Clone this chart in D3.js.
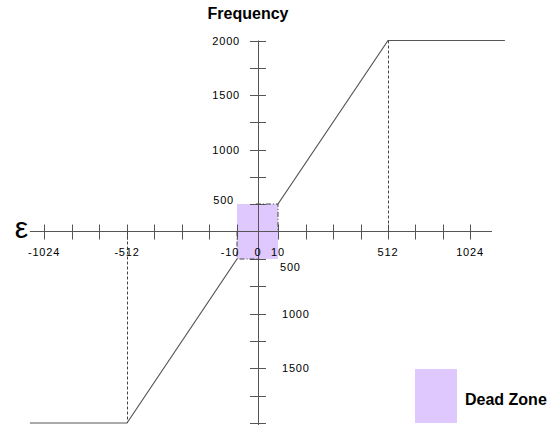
<!DOCTYPE html>
<meta charset="utf-8">
<style>
body { margin: 0; background: #fff; }
text { font-family: "Liberation Sans", Arial, sans-serif; fill: #000; }
.num { font-size: 11px; letter-spacing: 0.8px; }
.axis line { stroke: #555; stroke-width: 1px; }
.curve { fill: none; stroke: #555; stroke-width: 1.2px; }
.guide { stroke: #444; stroke-width: 1px; stroke-dasharray: 3,2; }
.dz { stroke: #444; stroke-width: 1px; stroke-dasharray: 5,2,1,2; fill: none; }
</style>
<svg></svg>
<script src="https://cdn.jsdelivr.net/npm/d3@7"></script>
<script>

// schematic axes: breakpoints in data units
var xBreaks = [-1024, -512, -10, 0, 10, 512, 1024];
var yBreaks = [-2000, -500, 0, 500, 2000];

var xTickValues = [-1024, -853, -683, -512, -387, -261, -136, -10, 10, 136, 261, 387, 512, 683, 853, 1024];
var xLabels = [-1024, -512, -10, 0, 10, 512, 1024];
var yTickValues = [2000, 1750, 1500, 1250, 1000, 750, 500, -500, -750, -1000, -1250, -1500, -1750, -2000];
var yLabelsTop = [2000, 1500, 1000, 500];
var yLabelsBottom = [-500, -1000, -1500];

// the response curve (two branches either side of the dead zone)
var leftBranch = [[-1111, -2000], [-512, -2000], [-10, -500]];
var rightBranch = [[10, 500], [512, 2000], [1242, 2000]];
var deadZone = { x0: -10, x1: 10, y0: -500, y1: 500 };

var width = 558,
    height = 425;

var svg = d3.select("svg")
    .attr("width", width)
    .attr("height", height);

var x = d3.scaleLinear()
    .domain(xBreaks)
    .range([44, 127, 237, 258, 278, 388, 470]);

var y = d3.scaleLinear()
    .domain(yBreaks)
    .range([423, 259, 231.5, 204, 40.5]);

// dead zone box
svg.append("rect")
    .attr("x", x(deadZone.x0))
    .attr("y", y(deadZone.y1))
    .attr("width", x(deadZone.x1) - x(deadZone.x0))
    .attr("height", y(deadZone.y0) - y(deadZone.y1))
    .attr("fill", "#dfc8fe");

var axis = svg.append("g").attr("class", "axis");

// x axis
axis.append("line")
    .attr("x1", x(-1111)).attr("x2", x(1161))
    .attr("y1", y(0)).attr("y2", y(0));

axis.selectAll(".xt")
    .data(xTickValues)
    .enter().append("line")
    .attr("x1", function(d) { return Math.round(x(d)) + 0.5; })
    .attr("x2", function(d) { return Math.round(x(d)) + 0.5; })
    .attr("y1", y(0) - 7)
    .attr("y2", y(0) + 8);

// y axis
axis.append("line")
    .attr("x1", x(0) + 0.5).attr("x2", x(0) + 0.5)
    .attr("y1", y(2000)).attr("y2", y(-2000) + 2);

axis.selectAll(".yt")
    .data(yTickValues)
    .enter().append("line")
    .attr("x1", x(0) - 8)
    .attr("x2", x(0) + 8)
    .attr("y1", function(d) { return Math.round(y(d)) + 0.5; })
    .attr("y2", function(d) { return Math.round(y(d)) + 0.5; });

// projection guides
svg.append("line").attr("class", "guide")
    .attr("x1", x(512) + 0.5).attr("x2", x(512) + 0.5)
    .attr("y1", y(2000)).attr("y2", y(0));
svg.append("line").attr("class", "guide")
    .attr("x1", x(-512) + 0.5).attr("x2", x(-512) + 0.5)
    .attr("y1", y(0)).attr("y2", y(-2000));

var line = d3.line()
    .x(function(d) { return x(d[0]); })
    .y(function(d) { return y(d[1]); });

svg.append("path").attr("class", "dz")
    .attr("d", line([[-1, deadZone.y1], [deadZone.x1, deadZone.y1], [deadZone.x1, 0]]));
svg.append("path").attr("class", "dz")
    .attr("d", line([[deadZone.x0, 0], [deadZone.x0, deadZone.y0], [1, deadZone.y0]]));

// curve
svg.append("path").attr("class", "curve").attr("d", line(leftBranch));
svg.append("path").attr("class", "curve").attr("d", line(rightBranch));

// x labels
svg.selectAll(".xl")
    .data(xLabels)
    .enter().append("text")
    .attr("class", "num")
    .attr("x", function(d) { return x(d) + (d == -10 ? -7 : 0); })
    .attr("y", y(0) + 24)
    .attr("text-anchor", "middle")
    .text(function(d) { return d; });

// y labels
svg.selectAll(".ylt")
    .data(yLabelsTop)
    .enter().append("text")
    .attr("class", "num")
    .attr("x", function(d) { return d == 500 ? x(-10) - 3 : x(0) - 18; })
    .attr("y", function(d) { return y(d) + (d == 500 ? 0 : 4); })
    .attr("text-anchor", "end")
    .text(function(d) { return d; });

svg.selectAll(".ylb")
    .data(yLabelsBottom)
    .enter().append("text")
    .attr("class", "num")
    .attr("x", function(d) { return d == -500 ? x(10) + 2 : x(0) + 24; })
    .attr("y", function(d) { return y(d) + (d == -500 ? 12 : 4); })
    .attr("text-anchor", "start")
    .text(function(d) { return Math.abs(d); });

// axis titles
svg.append("text")
    .attr("x", 28).attr("y", 238)
    .attr("text-anchor", "end")
    .style("font-size", "30px")
    .text("ε");

svg.append("text")
    .attr("x", 248).attr("y", 19)
    .attr("text-anchor", "middle")
    .style("font-size", "16px")
    .style("font-weight", "bold")
    .text("Frequency");

// legend
svg.append("rect")
    .attr("x", 415).attr("y", 369)
    .attr("width", 42).attr("height", 54)
    .attr("fill", "#dfc8fe");

svg.append("text")
    .attr("x", 465).attr("y", 405)
    .style("font-size", "16px")
    .style("font-weight", "bold")
    .text("Dead Zone");

</script>
